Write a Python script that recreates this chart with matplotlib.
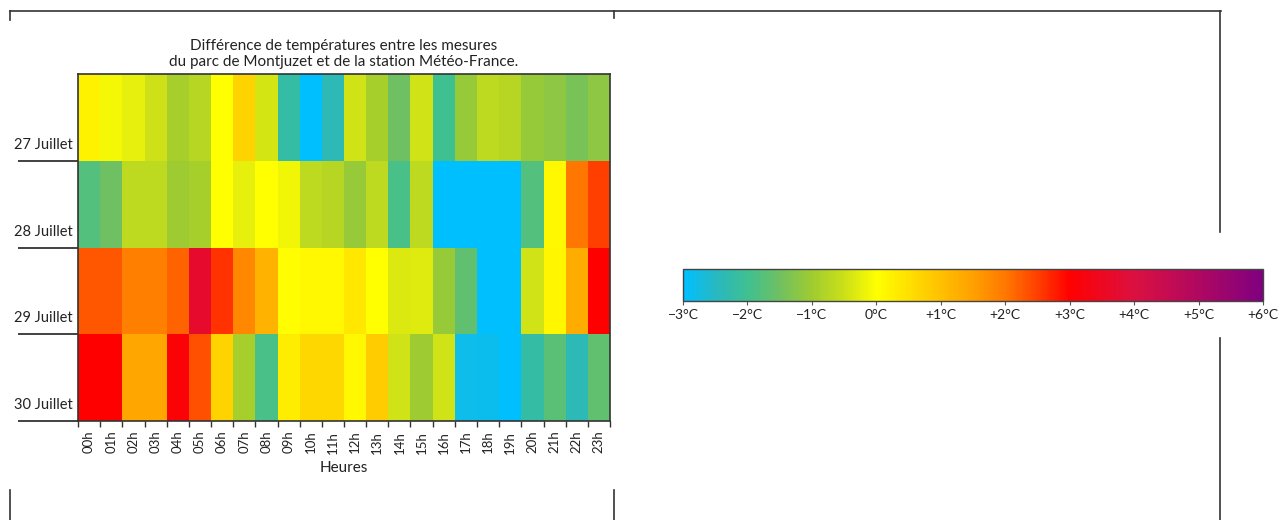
import matplotlib
matplotlib.use('Agg')
import matplotlib.pyplot as plt
import numpy as np
from matplotlib.colors import LinearSegmentedColormap
from matplotlib.lines import Line2D

plt.rcParams['font.family'] = ['Lato', 'DejaVu Sans']

# data (temperature difference, °C)
hours = [f'{h:02d}h' for h in range(24)]
days = ['27 Juillet', '28 Juillet', '29 Juillet', '30 Juillet']
juillet_27 = [0.2, -0.1, -0.25, -0.5, -0.9, -0.75, 0.0, 0.7, -0.4, -2.2, -3.0, -2.4,
              -0.45, -0.9, -1.5, -0.45, -2.0, -1.1, -0.65, -0.75, -1.1, -1.2, -1.4, -1.2]
juillet_28 = [-1.8, -1.5, -0.65, -0.65, -1.0, -0.9, 0.0, -0.25, 0.0, -0.15, -0.65, -0.75,
              -1.1, -0.65, -1.9, -0.65, -3.0, -3.0, -3.0, -3.0, -1.8, 0.1, 2.0, 2.5]
juillet_29 = [2.3, 2.3, 1.9, 1.9, 2.2, 3.7, 2.6, 1.8, 1.2, 0.05, 0.1, 0.1,
              0.4, 0.0, -0.35, -0.3, -1.1, -1.65, -3.0, -3.0, -0.45, 0.15, 1.3, 3.0]
juillet_30 = [3.0, 3.0, 1.4, 1.4, 3.1, 2.35, 0.7, -0.9, -1.9, 0.3, 0.65, 0.65,
              0.1, 0.8, -0.45, -1.0, -0.45, -2.8, -2.85, -3.0, -2.2, -1.7, -2.4, -1.65]
cbar_ticks = [-3, -2, -1, 0, 1, 2, 3, 4, 5, 6]
cbar_labels = ['−3°C', '−2°C', '−1°C', '0°C', '+1°C', '+2°C', '+3°C', '+4°C', '+5°C', '+6°C']

# colour scale
vmin, vmax = -3, 6
anchors = [(-3.0, '#00BFFF'), (-2.5, '#28B8C0'), (-2.0, '#40C090'), (-1.5, '#70C060'),
           (-1.0, '#A0CC30'), (-0.5, '#CCE018'), (0.0, '#FFFF00'), (0.5, '#FFE000'),
           (1.0, '#FFC000'), (1.5, '#FFA000'), (2.0, '#FF7800'), (2.5, '#FF4000'),
           (3.0, '#FF0000'), (4.0, '#DC1040'), (5.0, '#B00860'), (6.0, '#800080')]
cmap = LinearSegmentedColormap.from_list(
    'ecart', [((v - vmin) / (vmax - vmin), c) for v, c in anchors])

data = np.array([juillet_27, juillet_28, juillet_29, juillet_30])

W, H = 1281, 520
fig = plt.figure(figsize=(W / 100, H / 100), dpi=100)

ax = fig.add_axes([78 / W, 1 - 421 / H, 532 / W, 347 / H])
ax.pcolormesh(np.arange(25), np.arange(5), data, cmap=cmap, vmin=vmin, vmax=vmax)
ax.set_xlim(0, 24)
ax.set_ylim(4, 0)
for s in ax.spines.values():
    s.set_color('#333333')
    s.set_linewidth(1.2)

# x: ticks on cell edges, labels in the middle
ax.set_xticks(np.arange(25))
ax.set_xticklabels([])
ax.set_xticks(np.arange(24) + 0.5, minor=True)
ax.set_xticklabels(hours, minor=True, rotation=90, fontsize=9.5, color='#222222')
ax.tick_params(axis='x', which='major', length=4, width=1, color='#333333')
ax.tick_params(axis='x', which='minor', length=0, pad=7)
ax.set_xlabel('Heures', fontsize=11, color='#222222', labelpad=5)

# y: long lines at row edges, labels near the bottom of each row
ax.set_yticks(np.arange(4) + 0.8)
ax.set_yticklabels(days, fontsize=10.5, color='#222222')
ax.set_yticks(np.arange(1, 5), minor=True)
ax.tick_params(axis='y', which='major', length=0, pad=4)
ax.tick_params(axis='y', which='minor', length=43, width=1.3, color='#333333')

ax.set_title('Différence de températures entre les mesures\n'
             'du parc de Montjuzet et de la station Météo-France.',
             fontsize=11, color='#222222', linespacing=1.15, pad=6)

# colour bar
cax = fig.add_axes([683 / W, 1 - 301 / H, 580 / W, 32 / H])
sm = plt.cm.ScalarMappable(cmap=cmap, norm=plt.Normalize(vmin, vmax))
cb = fig.colorbar(sm, cax=cax, orientation='horizontal', ticks=cbar_ticks)
cb.ax.set_xticklabels(cbar_labels, fontsize=10, color='#222222')
cb.ax.tick_params(length=3, width=0.8, color='#555555', pad=3)
cb.outline.set_edgecolor('#444444')
cb.outline.set_linewidth(1)

# frame lines of the page around the two pictures
segs = [((10, 1221), (11, 11)), ((10, 10), (11, 20)), ((10, 10), (490, 520)),
        ((614, 614), (11, 18)), ((614, 614), (490, 520)),
        ((1220, 1220), (11, 232)), ((1220, 1220), (338, 520))]
for xs, ys in segs:
    fig.add_artist(Line2D([x / W for x in xs], [1 - y / H for y in ys],
                          color='#333333', linewidth=1.2))

fig.savefig('out.png', dpi=100)
